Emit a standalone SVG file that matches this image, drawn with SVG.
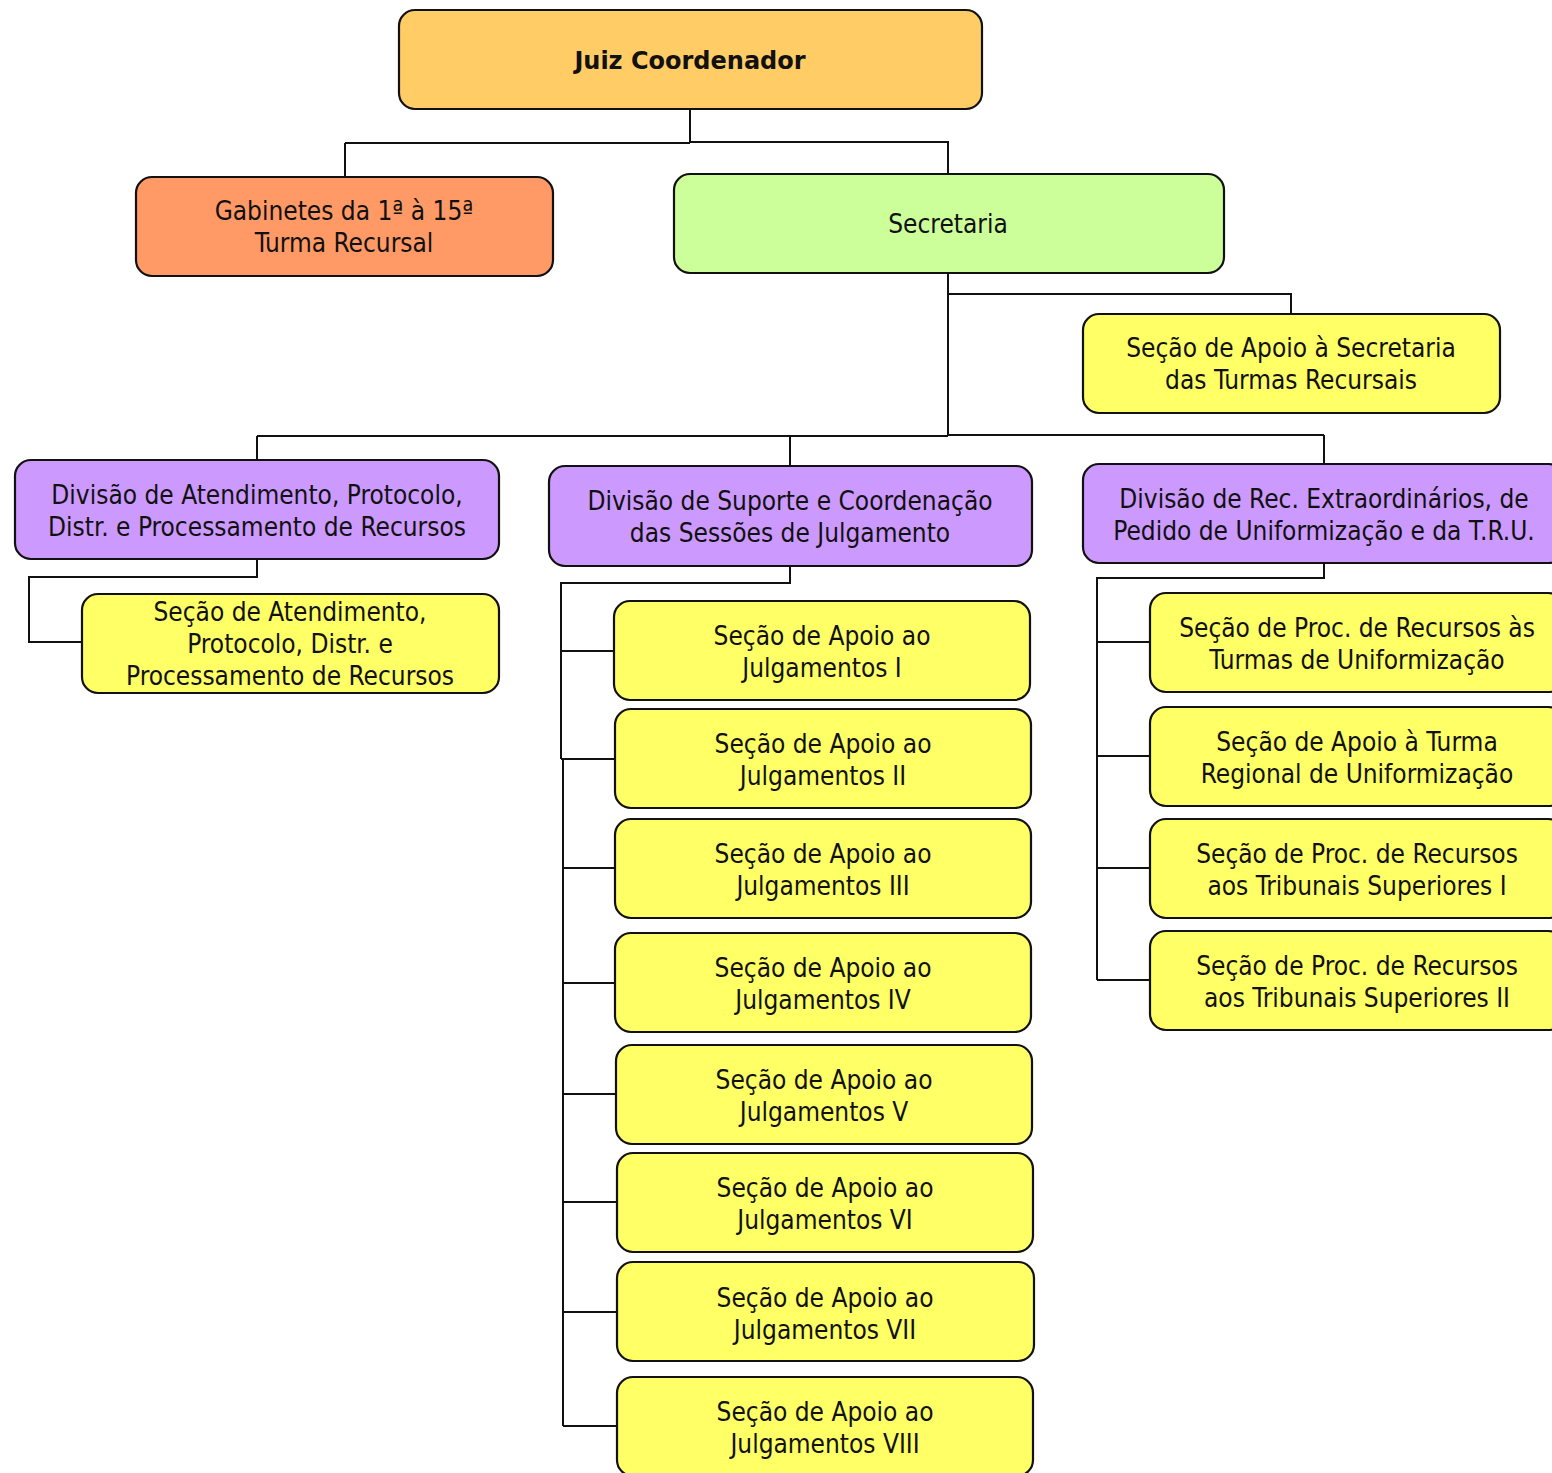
<svg xmlns="http://www.w3.org/2000/svg" width="1552" height="1473" viewBox="0 0 1552 1473">
<style>
.box{stroke:#111;stroke-width:2.2}
.j{fill:#FFCC66}.g{fill:#FF9966}.s{fill:#CCFF99}.d{fill:#CC99FF}.y{fill:#FFFF66}
text{font-family:"DejaVu Sans Condensed","DejaVu Sans",sans-serif;font-stretch:condensed;font-size:26px;fill:#111;text-anchor:middle}
.b{font-family:"DejaVu Sans",sans-serif;font-stretch:normal;font-weight:bold;font-size:24px}
.c{fill:none;stroke:#111;stroke-width:2}
</style>
<rect width="1552" height="1473" fill="#fff"/>
<g id="connectors" class="c">
<path d="M690 109V143M345 143H690M690 142H948V174M345 143V177"/>
<path d="M948 273V436M948 294H1291V314M257 436H948M948 435H1324M257 436V460M790 435V466M1324 435V464"/>
<path d="M257 559V577H29V642H82"/>
<path d="M790 566V583H561V759M563 759V1426M561 651H614M561 759H615M563 868H615M563 983H615M563 1094H616M563 1202H617M563 1312H617M563 1426H617"/>
<path d="M1324 563V578H1097V980M1097 642H1150M1097 756H1150M1097 868H1150M1097 980H1150"/>
</g>
<g id="juiz"><rect class="box j" x="399" y="10" width="583" height="99" rx="16"/><text class="b" x="690" y="69">Juiz Coordenador</text></g>
<g id="gabinetes"><rect class="box g" x="136" y="177" width="417" height="99" rx="16"/><text x="344" y="220">Gabinetes da 1ª à 15ª</text><text x="344" y="252">Turma Recursal</text></g>
<g id="secretaria"><rect class="box s" x="674" y="174" width="550" height="99" rx="16"/><text x="948" y="233">Secretaria</text></g>
<g id="apoio-secretaria"><rect class="box y" x="1083" y="314" width="417" height="99" rx="16"/><text x="1291" y="357">Seção de Apoio à Secretaria</text><text x="1291" y="389">das Turmas Recursais</text></g>
<g id="div1"><rect class="box d" x="15" y="460" width="484" height="99" rx="16"/><text x="257" y="504">Divisão de Atendimento, Protocolo,</text><text x="257" y="536">Distr. e Processamento de Recursos</text></g>
<g id="div2"><rect class="box d" x="549" y="466" width="483" height="100" rx="16"/><text x="790" y="510">Divisão de Suporte e Coordenação</text><text x="790" y="542">das Sessões de Julgamento</text></g>
<g id="div3"><rect class="box d" x="1083" y="464" width="482" height="99" rx="16"/><text x="1324" y="508">Divisão de Rec. Extraordinários, de</text><text x="1324" y="540">Pedido de Uniformização e da T.R.U.</text></g>
<g id="sec-atend"><rect class="box y" x="82" y="594" width="417" height="99" rx="16"/><text x="290" y="621">Seção de Atendimento,</text><text x="290" y="653">Protocolo, Distr. e</text><text x="290" y="685">Processamento de Recursos</text></g>
<g id="jul1"><rect class="box y" x="614" y="601" width="416" height="99" rx="16"/><text x="822" y="645">Seção de Apoio ao</text><text x="822" y="677">Julgamentos I</text></g>
<g id="jul2"><rect class="box y" x="615" y="709" width="416" height="99" rx="16"/><text x="823" y="753">Seção de Apoio ao</text><text x="823" y="785">Julgamentos II</text></g>
<g id="jul3"><rect class="box y" x="615" y="819" width="416" height="99" rx="16"/><text x="823" y="863">Seção de Apoio ao</text><text x="823" y="895">Julgamentos III</text></g>
<g id="jul4"><rect class="box y" x="615" y="933" width="416" height="99" rx="16"/><text x="823" y="977">Seção de Apoio ao</text><text x="823" y="1009">Julgamentos IV</text></g>
<g id="jul5"><rect class="box y" x="616" y="1045" width="416" height="99" rx="16"/><text x="824" y="1089">Seção de Apoio ao</text><text x="824" y="1121">Julgamentos V</text></g>
<g id="jul6"><rect class="box y" x="617" y="1153" width="416" height="99" rx="16"/><text x="825" y="1197">Seção de Apoio ao</text><text x="825" y="1229">Julgamentos VI</text></g>
<g id="jul7"><rect class="box y" x="617" y="1262" width="417" height="99" rx="16"/><text x="825" y="1307">Seção de Apoio ao</text><text x="825" y="1339">Julgamentos VII</text></g>
<g id="jul8"><rect class="box y" x="617" y="1377" width="416" height="99" rx="16"/><text x="825" y="1421">Seção de Apoio ao</text><text x="825" y="1453">Julgamentos VIII</text></g>
<g id="tu1"><rect class="box y" x="1150" y="593" width="414" height="99" rx="16"/><text x="1357" y="637">Seção de Proc. de Recursos às</text><text x="1357" y="669">Turmas de Uniformização</text></g>
<g id="tu2"><rect class="box y" x="1150" y="707" width="414" height="99" rx="16"/><text x="1357" y="751">Seção de Apoio à Turma</text><text x="1357" y="783">Regional de Uniformização</text></g>
<g id="tu3"><rect class="box y" x="1150" y="819" width="414" height="99" rx="16"/><text x="1357" y="863">Seção de Proc. de Recursos</text><text x="1357" y="895">aos Tribunais Superiores I</text></g>
<g id="tu4"><rect class="box y" x="1150" y="931" width="414" height="99" rx="16"/><text x="1357" y="975">Seção de Proc. de Recursos</text><text x="1357" y="1007">aos Tribunais Superiores II</text></g>
</svg>
